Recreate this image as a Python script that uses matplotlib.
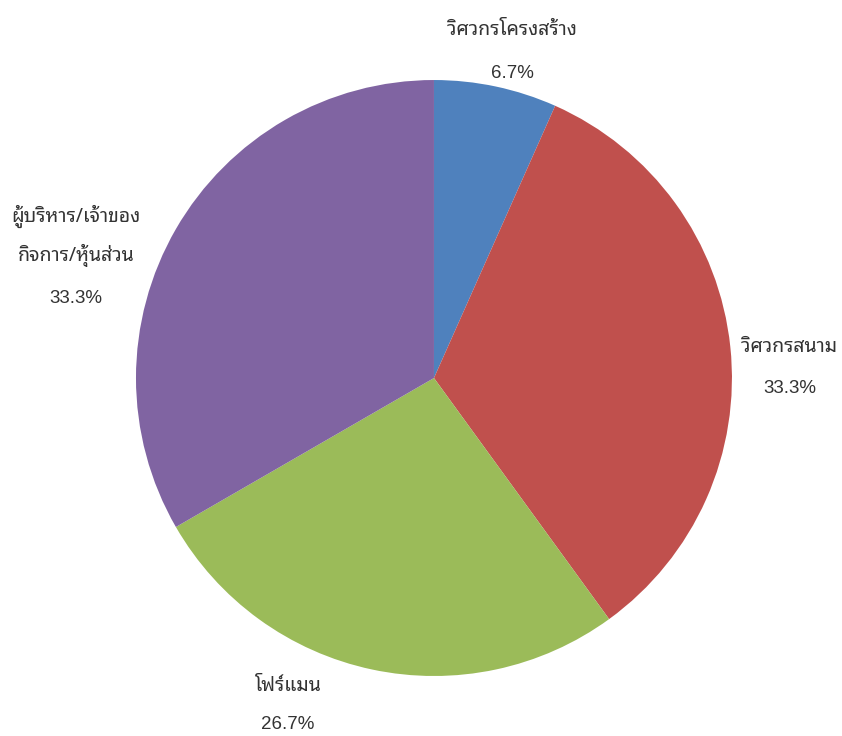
import matplotlib
matplotlib.use('Agg')
from matplotlib import pyplot as plt

thai_font = ['Noto Sans Thai Looped', 'Noto Sans Thai', 'DejaVu Sans']
latin_font = ['Liberation Sans', 'DejaVu Sans']

jobs = ['วิศวกรโครงสร้าง', 'วิศวกรสนาม', 'โฟร์แมน', 'ผู้บริหาร/เจ้าของ\nกิจการ/หุ้นส่วน']
counts = [1, 5, 4, 5]
colors = ['#4F81BD', '#C0504D', '#9BBB59', '#8064A2']
# label anchor (x, name y, percent y) in units of the pie radius
label_pos = [(0.265, 1.168, 1.023), (1.195, 0.104, -0.034),
             (-0.490, -1.034, -1.164), (-1.201, 0.477, 0.268)]

fig = plt.figure(figsize=(8.42, 7.36), dpi=100)
ax = fig.add_axes([0.1615, 0.0815, 0.7078, 0.8098])

wedges, _ = ax.pie(counts, colors=colors, startangle=90, counterclock=False,
                   radius=1, wedgeprops=dict(linewidth=0))

total = sum(counts)
for name, n, (x, yn, yp) in zip(jobs, counts, label_pos):
    ax.text(x, yn, name, ha='center', va='center', fontsize=14, weight='light',
            color='#333333', family=thai_font, linespacing=1.95)
    ax.text(x, yp, f'{n / total * 100:.1f}%', ha='center', va='center',
            fontsize=13.5, color='#333333', family=latin_font)

ax.set_xlim(-1, 1)
ax.set_ylim(-1, 1)
ax.set_aspect('equal')
ax.axis('off')

fig.savefig('out.png', dpi=100)
